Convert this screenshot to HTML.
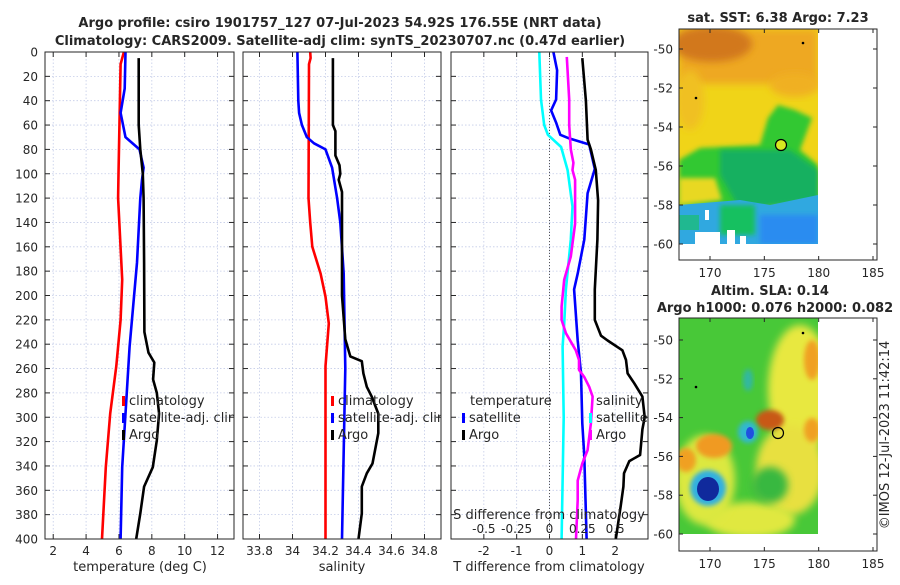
<!DOCTYPE html>
<html><head><meta charset="utf-8"><style>
body{margin:0;background:#fff;}
svg text{font-family:"DejaVu Sans","Liberation Sans",sans-serif;fill:#262626;}
</style></head><body>
<svg id="fig" width="900" height="580" viewBox="0 0 900 580" xmlns="http://www.w3.org/2000/svg">
<defs>
<filter id="bl" x="-20%" y="-20%" width="140%" height="140%"><feGaussianBlur stdDeviation="4"/></filter>
<filter id="bl2" x="-20%" y="-20%" width="140%" height="140%"><feGaussianBlur stdDeviation="2.5"/></filter>
<clipPath id="c1"><rect x="679" y="29" width="139" height="215"/></clipPath>
<clipPath id="c2"><rect x="679" y="318" width="139" height="216"/></clipPath>
<clipPath id="cp1"><rect x="45" y="52" width="189" height="487"/></clipPath>
<clipPath id="cp2"><rect x="243" y="52" width="198" height="487"/></clipPath>
</defs>
<text x="340" y="27" text-anchor="middle" font-size="13" font-weight="bold" fill="#000">Argo profile: csiro 1901757_127 07-Jul-2023 54.92S 176.55E (NRT data)</text>
<text x="340" y="45" text-anchor="middle" font-size="13" font-weight="bold" fill="#000">Climatology: CARS2009. Satellite-adj clim: synTS_20230707.nc (0.47d earlier)</text>

<!-- SST map -->
<g>
<text x="778" y="22" text-anchor="middle" font-size="13" font-weight="bold" fill="#000">sat. SST: 6.38 Argo: 7.23</text>
<g clip-path="url(#c1)">
<rect x="679" y="29" width="139" height="215" fill="#f0d418"/>
<rect x="679" y="29" width="139" height="55" fill="#eea824" filter="url(#bl)"/>
<ellipse cx="712" cy="44" rx="40" ry="18" fill="#d2781c" filter="url(#bl)"/>
<ellipse cx="795" cy="85" rx="25" ry="12" fill="#f0b020" filter="url(#bl)"/>
<ellipse cx="690" cy="100" rx="14" ry="30" fill="#f0c020" filter="url(#bl)"/>
<path d="M679,160 L700,148 L760,145 L768,118 L778,105 L795,110 L812,118 L800,150 L818,165 L818,205 L679,205 Z" fill="#30c830" filter="url(#bl2)"/>
<path d="M720,150 L790,150 L818,170 L818,200 L740,210 L720,175 Z" fill="#18b060" filter="url(#bl2)"/>
<path d="M679,178 L715,178 L722,200 L679,205 Z" fill="#e8d820" filter="url(#bl2)"/>
<path d="M679,205 L740,200 L770,205 L818,195 L818,244 L679,244 Z" fill="#30a8e0"/>
<rect x="760" y="215" width="58" height="29" fill="#2a8cf0" filter="url(#bl2)"/>
<rect x="679" y="215" width="20" height="15" fill="#20b890"/>
<rect x="720" y="205" width="35" height="30" fill="#18c060" filter="url(#bl2)"/>
<rect x="695" y="232" width="25" height="12" fill="#fff"/>
<rect x="727" y="230" width="8" height="14" fill="#fff"/>
<rect x="740" y="236" width="6" height="8" fill="#fff"/>
<rect x="705" y="210" width="4" height="10" fill="#fff"/>
</g>
<rect x="679" y="29" width="198" height="231" fill="none" stroke="#262626" stroke-width="1"/>
<circle cx="781" cy="145" r="5.5" fill="#d8e820" stroke="#000" stroke-width="1.2"/>
<circle cx="803" cy="43" r="1.3" fill="#000"/><circle cx="696" cy="98" r="1.3" fill="#000"/>
<g id="sstTicks"></g>
</g>

<!-- SLA map -->
<g>
<text x="770" y="295" text-anchor="middle" font-size="13" font-weight="bold" fill="#000">Altim. SLA: 0.14</text>
<text x="775" y="312" text-anchor="middle" font-size="13" font-weight="bold" fill="#000">Argo h1000: 0.076 h2000: 0.082</text>
<g clip-path="url(#c2)">
<rect x="679" y="318" width="139" height="216" fill="#48c838"/>
<ellipse cx="800" cy="390" rx="32" ry="65" fill="#e8e840" filter="url(#bl)"/>
<ellipse cx="790" cy="470" rx="34" ry="45" fill="#e8e040" filter="url(#bl)"/>
<ellipse cx="750" cy="520" rx="45" ry="18" fill="#e0e840" filter="url(#bl)"/>
<ellipse cx="705" cy="480" rx="30" ry="45" fill="#dce840" filter="url(#bl)"/>
<ellipse cx="770" cy="420" rx="14" ry="10" fill="#c85818" filter="url(#bl2)"/>
<ellipse cx="812" cy="360" rx="8" ry="20" fill="#f0a020" filter="url(#bl2)"/>
<ellipse cx="812" cy="430" rx="8" ry="12" fill="#f0a020" filter="url(#bl2)"/>
<ellipse cx="714" cy="446" rx="18" ry="12" fill="#f09a20" filter="url(#bl2)"/>
<ellipse cx="686" cy="460" rx="10" ry="12" fill="#f0a020" filter="url(#bl2)"/>
<ellipse cx="770" cy="485" rx="18" ry="18" fill="#38b840" filter="url(#bl)"/>
<ellipse cx="748" cy="432" rx="10" ry="11" fill="#30b8d0" filter="url(#bl2)"/>
<ellipse cx="750" cy="433" rx="4" ry="6" fill="#2050e0"/>
<ellipse cx="748" cy="380" rx="5" ry="11" fill="#30b8a0" filter="url(#bl2)"/>
<ellipse cx="708" cy="488" rx="18" ry="18" fill="#30b0e0" filter="url(#bl2)"/>
<ellipse cx="708" cy="489" rx="11" ry="12" fill="#102a9c"/>
</g>
<rect x="679" y="318" width="198" height="233" fill="none" stroke="#262626" stroke-width="1"/>
<circle cx="778" cy="433" r="5.5" fill="none" stroke="#000" stroke-width="1.2"/>
<circle cx="803" cy="333" r="1.3" fill="#000"/><circle cx="696" cy="387" r="1.3" fill="#000"/>
<g id="slaTicks"></g>
<text transform="translate(889,435) rotate(-90)" text-anchor="middle" font-size="13">©IMOS 12-Jul-2023 11:42:14</text>
</g>

<g id="panels"></g>
</svg>
<script>
// ---------- data ----------
const depthTicks = [0,20,40,60,80,100,120,140,160,180,200,220,240,260,280,300,320,340,360,380,400];
const tTicks = [2,4,6,8,10,12];
const sTicks = [33.8,34,34.2,34.4,34.6,34.8];
const dTicks = [-2,-1,0,1,2];
const sdTickLabels = ['-0.5','-0.25','0','0.25','0.5'];
const sdTicks = [-0.5,-0.25,0,0.25,0.5];
const lonTicks = [170,175,180,185];
const latTicks = [-50,-52,-54,-56,-58,-60];

const tClimDepth = [0,10,100,120,187,220,258,297,341,400];
const tClimVal   = [6.3,6.1,5.97,5.95,6.2,6.1,5.84,5.47,5.2,4.97];
const tSatDepth = [0,30,50,70,80,95,105,120,173,242,297,341,400];
const tSatVal   = [6.4,6.35,6.1,6.4,7.25,7.5,7.4,7.3,7.1,6.65,6.4,6.2,6.1];
const tArgoDepth = [5,60,80,100,120,173,230,247,255,269,280,297,319,341,357,379,400];
const tArgoVal   = [7.2,7.2,7.3,7.45,7.5,7.53,7.55,7.8,8.15,8.08,8.3,8.44,8.3,8.06,7.53,7.3,7.05];

const sClimDepth = [0,5,10,120,140,160,182,201,223,258,400];
const sClimVal   = [34.107,34.11,34.1,34.097,34.107,34.12,34.17,34.2,34.22,34.2,34.2];
const sSatDepth = [0,40,50,60,70,75,80,95,120,140,182,260,400];
const sSatVal   = [34.03,34.035,34.04,34.057,34.087,34.13,34.2,34.24,34.27,34.29,34.31,34.32,34.30];
const sArgoDepth = [5,60,65,85,93,100,105,115,140,200,236,250,254,264,275,283,297,313,338,346,357,379,400];
const sArgoVal   = [34.245,34.245,34.26,34.26,34.285,34.29,34.28,34.3,34.3,34.3,34.32,34.35,34.42,34.43,34.45,34.48,34.52,34.52,34.485,34.45,34.42,34.42,34.40];

const dTSatDepth = [0,15,39,48,58,68,71,76,96,116,154,182,195,237,264,305,332,400];
const dTSatVal   = [0.12,0.23,0.2,0.05,0.2,0.33,0.6,1.21,1.38,1.16,1.06,0.86,0.75,0.86,0.96,1.0,1.06,1.13];
const dTArgoDepth = [5,40,72,80,97,122,154,195,220,233,237,245,253,264,272,283,300,310,331,336,346,357,373,400];
const dTArgoVal   = [1.0,1.11,1.16,1.26,1.41,1.48,1.46,1.38,1.38,1.57,1.77,2.22,2.33,2.38,2.58,2.83,2.9,2.83,2.76,2.43,2.27,2.25,2.17,2.02];
const dSSatDepth = [0,39,60,68,78,97,127,154,195,223,242,300,400];
const dSSatVal   = [-0.078,-0.065,-0.04,-0.012,0.088,0.138,0.175,0.162,0.125,0.112,0.1,0.108,0.092];
const dSArgoDepth = [4,39,60,80,91,97,105,141,168,187,209,220,231,245,253,261,267,275,283,305,327,338,352,368,400];
const dSArgoVal   = [0.132,0.15,0.15,0.162,0.182,0.175,0.195,0.195,0.162,0.112,0.092,0.092,0.125,0.2,0.225,0.225,0.265,0.302,0.328,0.315,0.29,0.25,0.215,0.215,0.202];

// ---------- helpers ----------
const NS='http://www.w3.org/2000/svg';
const root=document.getElementById('panels');
function mk(tag,attrs,parent){const e=document.createElementNS(NS,tag);for(const k in attrs)e.setAttribute(k,attrs[k]);(parent||root).appendChild(e);return e;}
const Y0=52,Y1=539;
function yOf(d){return Y0+(d/400)*(Y1-Y0);}
function linScale(a,b,x0,x1){return v=>x0+(v-a)/(b-a)*(x1-x0);}

const P1={x0:45,x1:234,lo:1.5,hi:13};
const P2={x0:243,x1:441,lo:33.7,hi:34.9};
const P3={x0:451,x1:648,lo:-3,hi:3};
const fx1=linScale(P1.lo,P1.hi,P1.x0,P1.x1);
const fx2=linScale(P2.lo,P2.hi,P2.x0,P2.x1);
const fx3=linScale(P3.lo,P3.hi,P3.x0,P3.x1);
const fxS3=v=>fx3(v*4);

function panelFrame(P,xticks,fx,name){
  const g=mk('g',{});
  
  
  depthTicks.forEach(d=>{const y=yOf(d);
    if(d>0&&d<400){const l=mk('line',{x1:P.x0,x2:P.x1,y1:y,y2:y,stroke:'#c4cce8','stroke-width':0.8,'stroke-dasharray':'1.5,2'},g);
      
      }
    mk('line',{x1:P.x0,x2:P.x0+5,y1:y,y2:y,stroke:'#262626'},g);
    mk('line',{x1:P.x1-5,x2:P.x1,y1:y,y2:y,stroke:'#262626'},g);
  });
  xticks.forEach(v=>{const x=fx(v);
    const l=mk('line',{x1:x,x2:x,y1:Y0,y2:Y1,stroke:'#c4cce8','stroke-width':0.8,'stroke-dasharray':'1.5,2'},g);
    
    
    mk('line',{x1:x,x2:x,y1:Y1-5,y2:Y1,stroke:'#262626'},g);
    mk('line',{x1:x,x2:x,y1:Y0,y2:Y0+5,stroke:'#262626'},g);
    const t=mk('text',{x:x,y:Y1+16,'text-anchor':'middle','font-size':12},g);
    t.textContent=(v<0?'-':'')+Math.abs(v);
    
    
  });
  return g;
}
function line(depths,vals,fx,color,name,g){
  const pts=depths.map((d,i)=>fx(vals[i]).toFixed(1)+','+yOf(d).toFixed(1)).join(' ');
  const p=mk('polyline',{points:pts,fill:'none',stroke:color,'stroke-width':2.6,'stroke-linejoin':'round'},g);
  
  
}
function box(P,g){mk('rect',{x:P.x0,y:Y0,width:P.x1-P.x0,height:Y1-Y0,fill:'none',stroke:'#262626','stroke-width':1},g);}
function legendItem(x,y,color,label,g,name){
  const m=mk('rect',{x:x,y:y-9,width:3,height:10,fill:color},g);
  
  
  const t=mk('text',{x:x+7,y:y,'font-size':13},g);t.textContent=label;
  
  
}

// y tick labels
depthTicks.forEach(d=>{const t=mk('text',{x:38,y:yOf(d)+4.5,'text-anchor':'end','font-size':12});t.textContent=d;
  
  });

// Panel 1
const g1=panelFrame(P1,tTicks,fx1,'temperature-panel');
line(tClimDepth,tClimVal,fx1,'#ff0000','temp-climatology-line',g1);
line(tSatDepth,tSatVal,fx1,'#0000ff','temp-satellite-line',g1);
line(tArgoDepth,tArgoVal,fx1,'#000000','temp-argo-line',g1);
box(P1,g1);
const lg1=mk('g',{'clip-path':'url(#cp1)'},g1);
legendItem(122,405,'#ff0000','climatology',lg1,'legend-climatology');
legendItem(122,422,'#0000ff','satellite-adj. clim',lg1,'legend-satellite-adj');
legendItem(122,439,'#000000','Argo',lg1,'legend-argo');
let t=mk('text',{x:140,y:571,'text-anchor':'middle','font-size':13});t.textContent='temperature (deg C)';



// Panel 2
const g2=panelFrame(P2,sTicks,fx2,'salinity-panel');
line(sClimDepth,sClimVal,fx2,'#ff0000','sal-climatology-line',g2);
line(sSatDepth,sSatVal,fx2,'#0000ff','sal-satellite-line',g2);
line(sArgoDepth,sArgoVal,fx2,'#000000','sal-argo-line',g2);
const lg2=mk('g',{'clip-path':'url(#cp2)'},g2);
legendItem(331,405,'#ff0000','climatology',lg2,'legend-climatology-2');
legendItem(331,422,'#0000ff','satellite-adj. clim',lg2,'legend-satellite-adj-2');
legendItem(331,439,'#000000','Argo',lg2,'legend-argo-2');
box(P2,g2);
t=mk('text',{x:342,y:571,'text-anchor':'middle','font-size':13});t.textContent='salinity';



// Panel 3
const g3=panelFrame(P3,dTicks,fx3,'difference-panel');
const z=mk('line',{x1:fx3(0),x2:fx3(0),y1:Y0,y2:Y1,stroke:'#555','stroke-width':1,'stroke-dasharray':'1,2'},g3);


line(dSSatDepth,dSSatVal,fxS3,'#00ffff','sdiff-satellite-line',g3);
line(dTSatDepth,dTSatVal,fx3,'#0000ff','tdiff-satellite-line',g3);
line(dSArgoDepth,dSArgoVal,fxS3,'#ff00ff','sdiff-argo-line',g3);
line(dTArgoDepth,dTArgoVal,fx3,'#000000','tdiff-argo-line',g3);
box(P3,g3);
t=mk('text',{x:470,y:405,'font-size':13},g3);t.textContent='temperature';


legendItem(462,422,'#0000ff','satellite',g3,'legend-t-satellite');
legendItem(462,439,'#000000','Argo',g3,'legend-t-argo');
t=mk('text',{x:596,y:405,'font-size':13},g3);t.textContent='salinity';


legendItem(589,422,'#00ffff','satellite',g3,'legend-s-satellite');
legendItem(589,439,'#ff00ff','Argo',g3,'legend-s-argo');
t=mk('text',{x:549,y:519,'text-anchor':'middle','font-size':13},g3);t.textContent='S difference from climatology';


sdTicks.forEach((v,i)=>{const tt=mk('text',{x:fxS3(v),y:533,'text-anchor':'middle','font-size':12},g3);tt.textContent=sdTickLabels[i];
  
  });
t=mk('text',{x:549,y:571,'text-anchor':'middle','font-size':13});t.textContent='T difference from climatology';



// map ticks
function mapTicks(gid,top,lat50,lat60,bottom){
  const g=document.getElementById(gid);
  const fxl=linScale(170,185,710,873);
  const fyl=linScale(-50,-60,lat50,lat60);
  lonTicks.forEach(v=>{const x=fxl(v);
    mk('line',{x1:x,x2:x,y1:bottom-4,y2:bottom,stroke:'#262626'},g);
    mk('line',{x1:x,x2:x,y1:top,y2:top+4,stroke:'#262626'},g);
    const tt=mk('text',{x:x,y:bottom+17,'text-anchor':'middle','font-size':12},g);tt.textContent=v;
    
    });
  latTicks.forEach(v=>{const y=fyl(v);
    mk('line',{x1:679,x2:683,y1:y,y2:y,stroke:'#262626'},g);
    mk('line',{x1:873,x2:877,y1:y,y2:y,stroke:'#262626'},g);
    const tt=mk('text',{x:673,y:y+4.5,'text-anchor':'end','font-size':12},g);tt.textContent=v;
    
    });
}
mapTicks('sstTicks',29,49,244,260);
mapTicks('slaTicks',318,340,534,551);
</script>
</body></html>
